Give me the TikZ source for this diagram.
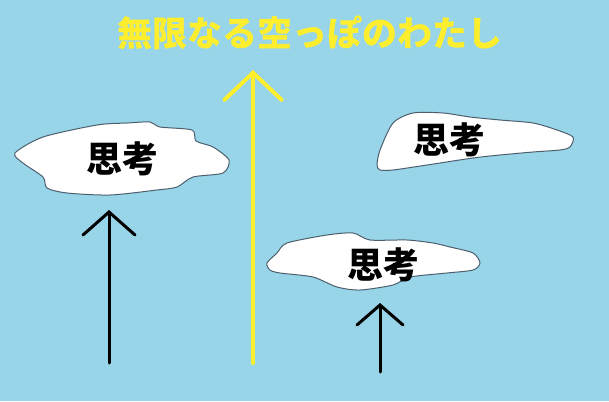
\documentclass[tikz,border=0pt]{standalone}
\usepackage{fontspec}
\newfontfamily\jp{Noto Sans CJK JP}
\usetikzlibrary{arrows.meta}
\definecolor{sky}{RGB}{152,213,232}
\definecolor{lemon}{RGB}{255,238,45}
\definecolor{rim}{RGB}{75,95,110}
\tikzset{>=stealth,
  cloudy/.style={fill=white, draw=rim, line width=1pt},
  thought/.style={font=\jp\bfseries\fontsize{36}{36}\selectfont, inner sep=0pt},
  rise/.style={line width=3pt, line cap=round, -{Straight Barb[length=23pt, width=52pt, line cap=round]}}}

\begin{document}
\begin{tikzpicture}[x=1pt, y=-1pt]
    \fill[sky] (0,0) rectangle (609,401);
    \useasboundingbox (0,0) rectangle (609,401);
    % title
    \node[font=\jp\bfseries\fontsize{35}{35}\selectfont, text=lemon, inner sep=0pt] (title) at (310,33) {無限なる空っぽのわたし};
    % clouds
    \draw[cloudy] plot[smooth cycle, tension=0.45] coordinates {(15,153) (43,137) (97,125) (127,123) (150,122) (160,127) (192,130) (196,141) (213,147) (229,160) (223,173) (193,177) (177,187) (157,190) (110,195) (67,193) (47,188) (43,177) (23,163)};
    \draw[cloudy] plot[smooth cycle, tension=0.45] coordinates {(377,165) (380,150) (393,123) (413,113) (443,113) (470,117) (500,120) (533,123) (557,130) (573,137) (570,147) (560,150) (533,152) (500,155) (473,158) (427,165) (393,170) (380,170)};
    \draw[cloudy] plot[smooth cycle, tension=0.45] coordinates {(267,263) (277,253) (287,243) (327,235) (353,233) (370,240) (407,240) (433,243) (450,247) (473,253) (480,263) (473,270) (447,273) (410,277) (393,285) (360,290) (337,287) (313,277) (280,273) (270,270)};
    \node[thought] (left) at (122,159) {思考};
    \node[thought] (right) at (449,140) {思考};
    \node[thought] (low) at (383,265) {思考};
    % arrows
    \coordinate (a1) at (109,363);
    \coordinate (b1) at (109,210);
    \coordinate (a2) at (253,363);
    \coordinate (b2) at (253,70);
    \coordinate (a3) at (380,372);
    \coordinate (b3) at (380,303);
    \draw[rise] (a1) -- (b1);
    \draw[rise, lemon, line width=4pt, -{Straight Barb[length=27pt, width=57pt, line cap=round]}] (a2) -- (b2);
    \draw[rise, -{Straight Barb[length=20pt, width=46pt, line cap=round]}] (a3) -- (b3);
\end{tikzpicture}
\end{document}
